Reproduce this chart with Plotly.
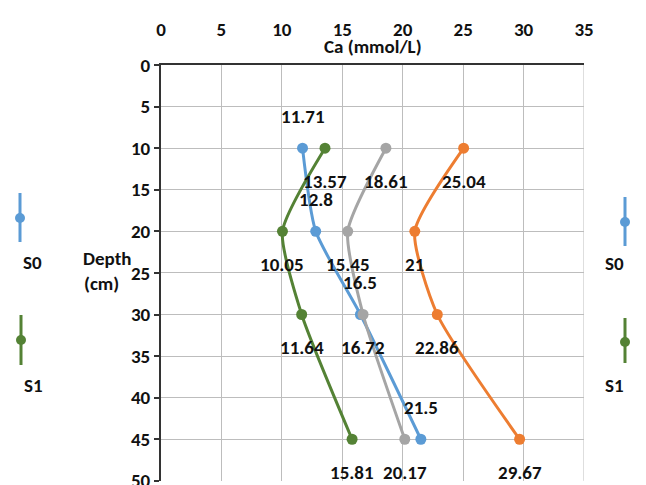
import plotly.graph_objects as go

depth = [10, 20, 30, 45]
series_names = ["S0", "S1", "S2", "S3"]
ca_s0 = [11.71, 12.8, 16.5, 21.5]
ca_s1 = [13.57, 10.05, 11.64, 15.81]
ca_s2 = [18.61, 15.45, 16.72, 20.17]
ca_s3 = [25.04, 21, 22.86, 29.67]
x_ticks = [0, 5, 10, 15, 20, 25, 30, 35]
y_ticks = [0, 5, 10, 15, 20, 25, 30, 35, 40, 45, 50]

colors = ["#5B9BD5", "#548235", "#A5A5A5", "#ED7D31"]
label_shift = [32, -33, -33, -33]

W, H = 646, 485
L, R, T, B = 161, 62, 65, 4
pw, ph = W - L - R, H - T - B

def px(x):
    return (x - L) / pw

def py(y):
    return (H - B - y) / ph

FONT = "Carlito, Liberation Sans, Arial"
TXT = dict(family=FONT, size=19, color="#111111", weight=700)
fig = go.Figure()

all_series = [ca_s0, ca_s1, ca_s2, ca_s3]
for name, vals, col in zip(series_names, all_series, colors):
    fig.add_trace(go.Scatter(
        x=vals, y=depth, mode="lines+markers", name=name,
        line=dict(color=col, width=3, shape="spline", smoothing=0.6),
        marker=dict(color=col, size=11),
        showlegend=False, cliponaxis=False,
    ))

annotations = []
for vals, shift in zip(all_series, label_shift):
    for v, d in zip(vals, depth):
        annotations.append(dict(
            x=v, y=d, xref="x", yref="y", text=f"{v:g}", showarrow=False,
            yshift=shift, font=TXT,
        ))

# axis title (below top tick labels)
annotations.append(dict(x=0.5, y=py(46), xref="paper", yref="paper", text="Ca (mmol/L)",
                        showarrow=False, font=TXT, yanchor="middle"))
# Depth label
annotations.append(dict(x=px(81), y=py(258), xref="paper", yref="paper", text="Depth",
                        showarrow=False, font=TXT, yanchor="middle"))
annotations.append(dict(x=px(82), y=py(283), xref="paper", yref="paper", text="(cm)",
                        showarrow=False, font=TXT, yanchor="middle"))

# Custom legends (vertical-line symbols) on both sides
shapes = []
legend_items = [
    (20, 193, 242, 218, 262, "S0", colors[0]),
    (21, 315, 365, 340, 385, "S1", colors[1]),
    (625, 197, 246, 222, 263, "S0", colors[0]),
    (625, 318, 363, 342, 385, "S1", colors[1]),
]
for xc, y0, y1, yc, ylab, txt, col in legend_items:
    shapes.append(dict(type="line", xref="paper", yref="paper",
                       x0=px(xc), x1=px(xc), y0=py(y0), y1=py(y1),
                       line=dict(color=col, width=3)))
    shapes.append(dict(type="circle", xref="paper", yref="paper",
                       x0=px(xc - 5), x1=px(xc + 5), y0=py(yc - 5), y1=py(yc + 5),
                       fillcolor=col, line=dict(color=col, width=0)))
    annotations.append(dict(x=px(xc + 1), y=py(ylab), xref="paper", yref="paper", text=txt,
                            showarrow=False, font=TXT, yanchor="middle"))

fig.update_layout(
    width=W, height=H,
    margin=dict(l=L, r=R, t=T, b=B, autoexpand=False),
    paper_bgcolor="white", plot_bgcolor="white",
    font=TXT,
    xaxis=dict(
        side="top", range=[0, 35], tickvals=x_ticks, ticktext=[str(t) for t in x_ticks],
        showgrid=True, gridcolor="#BDBDBD", gridwidth=1,
        showline=True, linecolor="#333333", linewidth=2,
        ticks="", zeroline=False, ticklabelstandoff=19,
        tickfont=TXT, automargin=False,
    ),
    yaxis=dict(
        range=[50.02, 0], tickvals=y_ticks, ticktext=[str(t) for t in y_ticks],
        showgrid=True, gridcolor="#BDBDBD", gridwidth=1,
        showline=True, linecolor="#333333", linewidth=2,
        ticks="outside", ticklen=5, tickcolor="#333333", tickwidth=2,
        zeroline=False, tickfont=TXT, ticklabeloverflow="allow", automargin=False,
    ),
    shapes=shapes,
    annotations=annotations,
)

# right border gridline at x=35
fig.add_shape(type="line", xref="x", yref="y", x0=35, x1=35, y0=0, y1=50,
              line=dict(color="#BDBDBD", width=1), layer="below")

fig.write_html("out.html")
